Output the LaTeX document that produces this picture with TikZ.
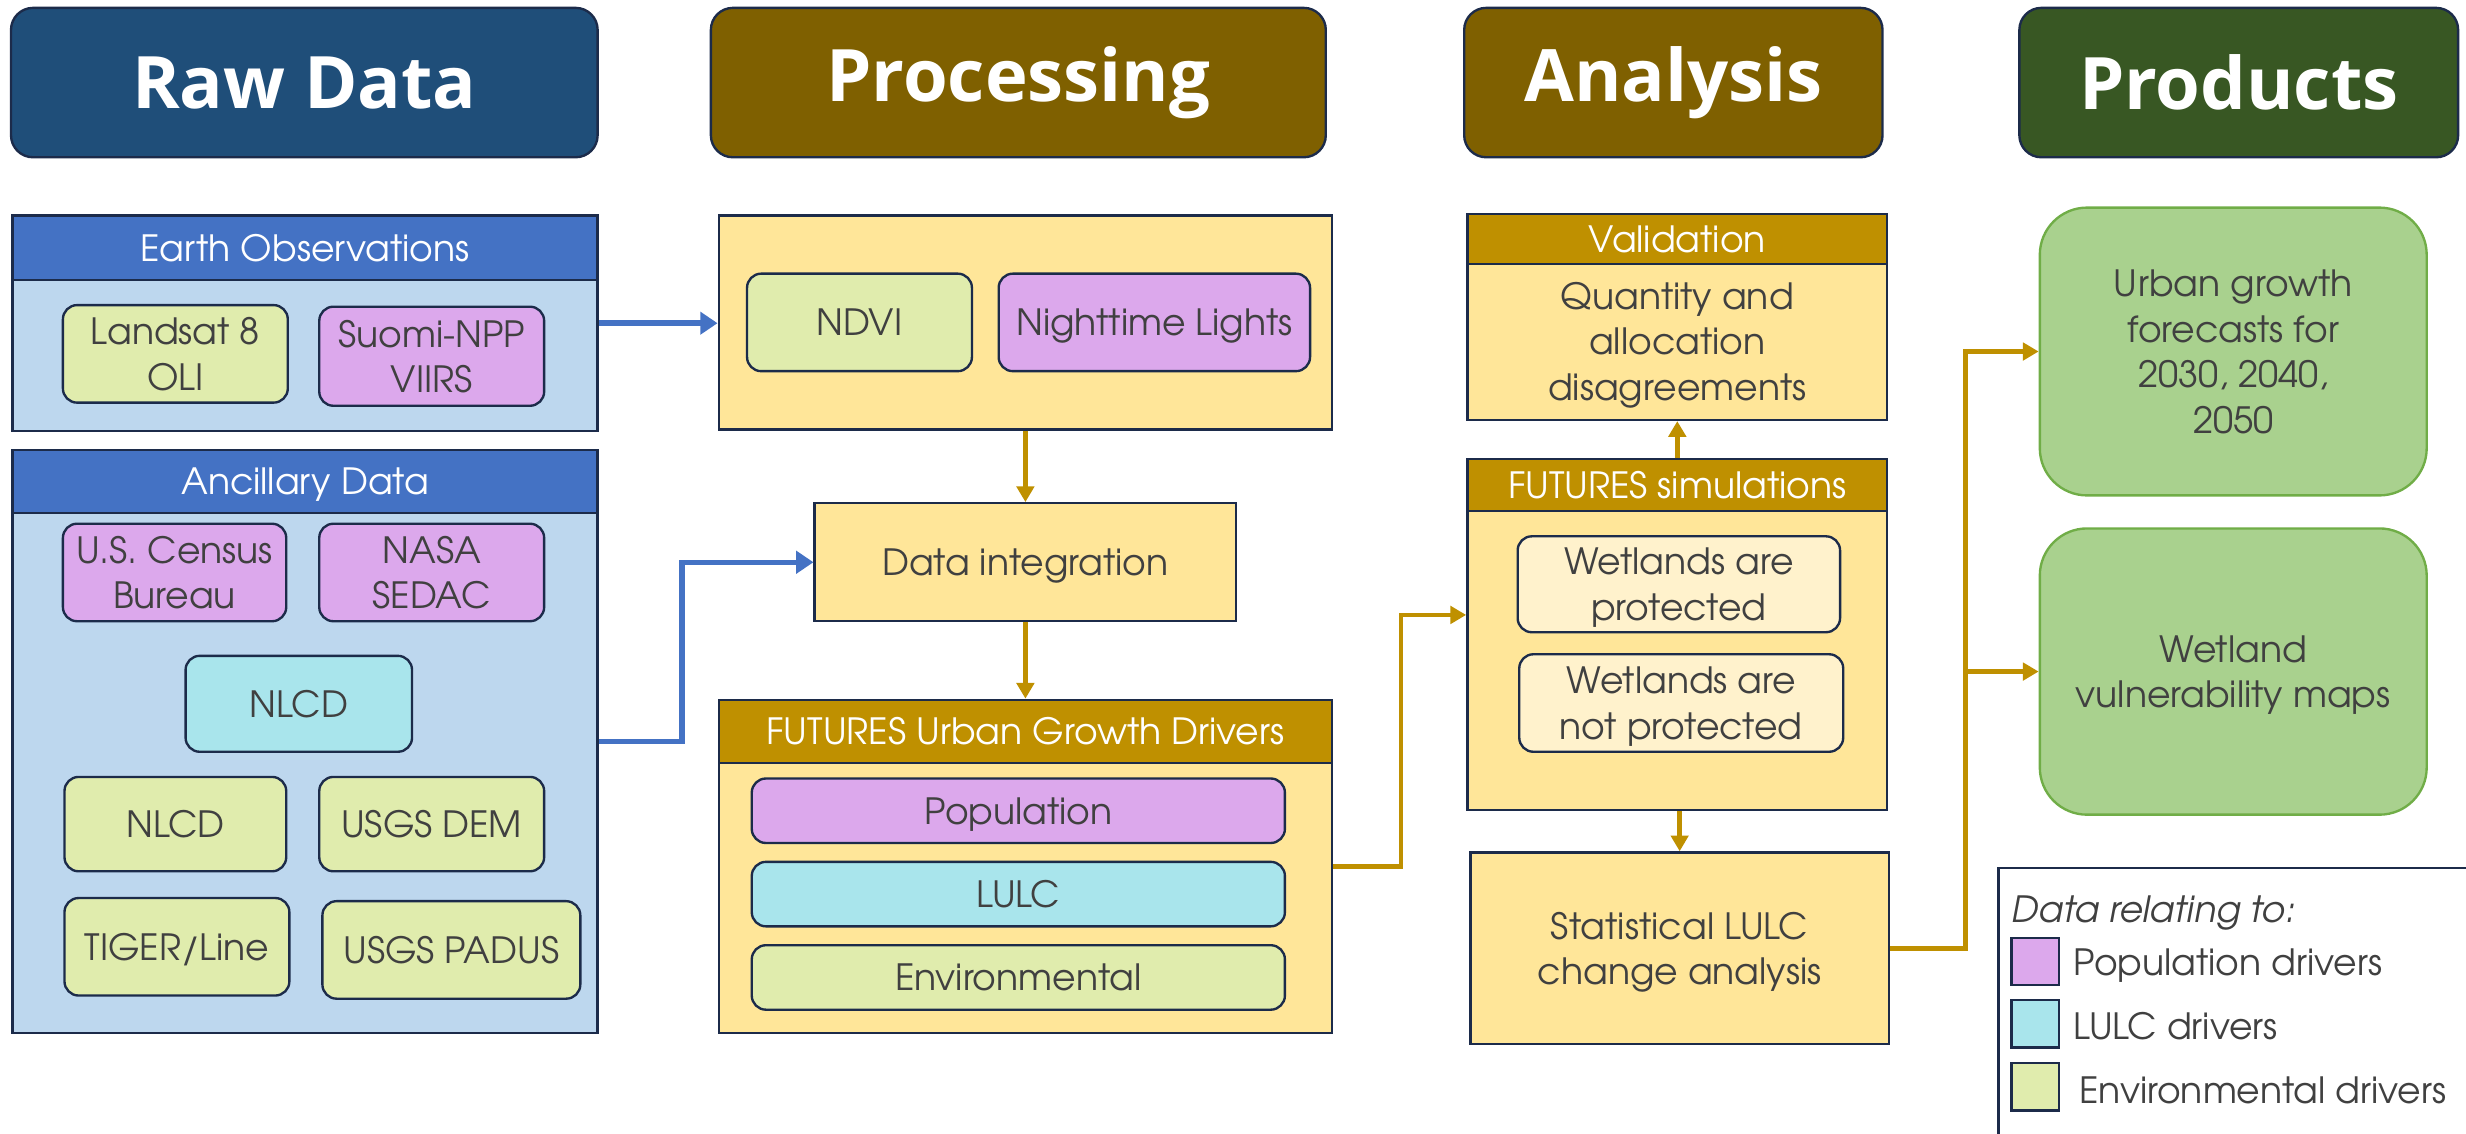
\documentclass[tikz,border=0pt]{standalone}
\usepackage{fontspec}
\setmainfont{texgyreadventor}[Extension=.otf, UprightFont=*-regular, BoldFont=*-bold, ItalicFont=*-italic, BoldItalicFont=*-bolditalic]
\newfontfamily\headfont{Open Sans}
\usetikzlibrary{arrows.meta}
\definecolor{navyH}{HTML}{1F4E79}
\definecolor{brownH}{HTML}{7F6000}
\definecolor{greenH}{HTML}{385723}
\definecolor{blueband}{HTML}{4472C4}
\definecolor{bluebody}{HTML}{BDD7EE}
\definecolor{yell}{HTML}{FFE699}
\definecolor{gold}{HTML}{BF9000}
\definecolor{envc}{HTML}{E0ECAD}
\definecolor{popc}{HTML}{DCA8EC}
\definecolor{lulcc}{HTML}{A9E5EC}
\definecolor{cream}{HTML}{FFF2CC}
\definecolor{prodg}{HTML}{A9D18E}
\definecolor{prodb}{HTML}{70AD47}
\definecolor{bord}{HTML}{1C2B4A}
\definecolor{txt}{HTML}{404040}
\newcommand\bfnt{\fontsize{23}{29}\selectfont}
\tikzset{
  bx/.style={draw=bord, line width=1.5pt, inner sep=0pt, align=center, font=\bfnt, text=txt, text depth=0pt},
  rbx/.style={bx, rounded corners=9pt},
  head/.style={draw=bord, line width=1.5pt, rounded corners=14pt, inner sep=0pt, text=white, font=\headfont\bfseries\fontsize{46}{50}\selectfont},
  band/.style={bx, text=white},
  prod/.style={draw=prodb, line width=1.5pt, fill=prodg, rounded corners=30pt, inner sep=0pt, align=center, font=\bfnt, text=txt, text depth=0pt},
  barrow/.style={draw=blueband, line width=3.5pt, -{Triangle[length=11pt,width=14pt]}},
  garrow/.style={draw=gold, line width=3pt, -{Triangle[length=10pt,width=11pt]}},
  swatch/.style={draw=bord, line width=1.5pt, minimum width=30pt, minimum height=30pt, inner sep=0pt},
  legtxt/.style={anchor=west, inner sep=0pt, font=\bfnt, text=txt, text depth=0pt}
}
\begin{document}
\begin{tikzpicture}[x=1pt,y=-1pt]
\useasboundingbox (0,0) rectangle (1568,721);
% headers
\node[head, fill=navyH, minimum width=373pt, minimum height=95pt] (hraw) at (193.5,52.5) {Raw Data};
\node[head, fill=brownH, minimum width=391pt, minimum height=95pt] (hproc) at (647.5,52.5) {Processing};
\node[head, fill=brownH, minimum width=266pt, minimum height=95pt] (hana) at (1064,52.5) {Analysis};
\node[head, fill=greenH, minimum width=279pt, minimum height=95pt] (hprod) at (1423.5,52.5) {Products};
% Raw data column
\node[bx, fill=bluebody, minimum width=372pt, minimum height=137pt] (eo) at (194,205.5) {};
\node[band, fill=blueband, minimum width=372pt, minimum height=41pt] (eoh) at (194,157.5) {Earth Observations};
\node[rbx, fill=envc, minimum width=143pt, minimum height=62pt] (landsat) at (111.5,225) {Landsat 8\\OLI};
\node[rbx, fill=popc, minimum width=143pt, minimum height=63pt] (suomi) at (274.5,226.5) {Suomi-NPP\\VIIRS};
\node[bx, fill=bluebody, minimum width=372pt, minimum height=371pt] (anc) at (194,471.5) {};
\node[band, fill=blueband, minimum width=372pt, minimum height=40pt] (anch) at (194,306) {Ancillary Data};
\node[rbx, fill=popc, minimum width=142pt, minimum height=62pt] (census) at (111,364) {U.S. Census\\Bureau};
\node[rbx, fill=popc, minimum width=143pt, minimum height=62pt] (nasa) at (274.5,364) {NASA\\SEDAC};
\node[rbx, fill=lulcc, minimum width=144pt, minimum height=61pt] (nlcda) at (190,447.5) {NLCD};
\node[rbx, fill=envc, minimum width=141pt, minimum height=60pt] (nlcdb) at (111.5,524) {NLCD};
\node[rbx, fill=envc, minimum width=143pt, minimum height=60pt] (dem) at (274.5,524) {USGS DEM};
\node[rbx, fill=envc, minimum width=143pt, minimum height=62pt] (tiger) at (112.5,602) {TIGER/Line};
\node[rbx, fill=envc, minimum width=164pt, minimum height=62pt] (padus) at (287,604) {USGS PADUS};
% Processing column
\node[bx, fill=yell, minimum width=390pt, minimum height=136pt] (proc) at (652,205) {};
\node[rbx, fill=envc, minimum width=143pt, minimum height=62pt] (ndvi) at (546.5,205) {NDVI};
\node[rbx, fill=popc, minimum width=198pt, minimum height=62pt] (night) at (734,205) {Nighttime Lights};
\node[bx, fill=yell, minimum width=268pt, minimum height=75pt] (integ) at (652,357.5) {Data integration};
\node[bx, fill=yell, minimum width=390pt, minimum height=212pt] (drv) at (652,551) {};
\node[band, fill=gold, minimum width=390pt, minimum height=40pt] (drvh) at (652,465) {FUTURES Urban Growth Drivers};
\node[rbx, fill=popc, minimum width=339pt, minimum height=41pt] (pop) at (647.5,515.5) {Population};
\node[rbx, fill=lulcc, minimum width=339pt, minimum height=41pt] (lulc) at (647.5,568.5) {LULC};
\node[rbx, fill=envc, minimum width=339pt, minimum height=41pt] (env) at (647.5,621.5) {Environmental};
% Analysis column
\node[bx, fill=yell, minimum width=267pt, minimum height=131pt] (val) at (1066.5,201.5) {};
\node[band, fill=gold, minimum width=267pt, minimum height=32pt] (valh) at (1066.5,152) {Validation};
\node[align=center, font=\bfnt, text=txt, inner sep=0pt, text depth=0pt] (valt) at (1066.5,217) {Quantity and\\allocation\\disagreements};
\node[bx, fill=yell, minimum width=267pt, minimum height=223pt] (sim) at (1066.5,403.5) {};
\node[band, fill=gold, minimum width=267pt, minimum height=33pt] (simh) at (1066.5,308.5) {FUTURES simulations};
\node[rbx, fill=cream, minimum width=205pt, minimum height=61pt] (wp) at (1067.5,371.5) {Wetlands are\\protected};
\node[rbx, fill=cream, minimum width=206pt, minimum height=62pt] (wnp) at (1069,447) {Wetlands are\\not protected};
\node[bx, fill=yell, minimum width=266pt, minimum height=122pt] (stat) at (1068,603) {Statistical LULC\\change analysis};
% Products
\node[prod, minimum width=246pt, minimum height=183pt] (urb) at (1420,223.5) {Urban growth\\forecasts for\\2030, 2040,\\2050};
\node[prod, minimum width=246pt, minimum height=182pt] (wet) at (1420,427) {Wetland\\vulnerability maps};
% Legend
\node[draw=bord, line width=1.5pt, anchor=north west, minimum width=330pt, minimum height=200pt, inner sep=0pt] (leg) at (1270,551) {};
\node[anchor=west, inner sep=0pt, font=\bfnt\itshape, text=txt, text depth=0pt] (legt) at (1279,578) {Data relating to:};
\node[swatch, fill=popc] (sw1) at (1294,611.5) {};
\node[swatch, fill=lulcc] (sw2) at (1294,651) {};
\node[swatch, fill=envc] (sw3) at (1294,691) {};
\node[legtxt] (l1) at (1318,612) {Population drivers};
\node[legtxt] (l2) at (1318,652) {LULC drivers};
\node[legtxt] (l3) at (1322,693) {Environmental drivers};
% connectors
\draw[barrow] (eo.east) -- (eo.east -| proc.west);
\draw[barrow] (anc.east) -- ++(53,0) |- (integ.west);
\draw[garrow] (proc.south) -- (integ.north);
\draw[garrow] (integ.south) -- (drv.north);
\draw[garrow] (drv.east) -- ++(43,0) |- ([yshift=12.5pt]sim.west);
\draw[garrow] (sim.north) -- (val.south);
\draw[garrow] (sim.south -| stat.north) -- (stat.north);
\coordinate (jn) at ([xshift=48pt]stat.east);
\draw[garrow] (stat.east) -- (jn) |- (urb.west);
\draw[garrow] (jn) |- (wet.west);
\end{tikzpicture}
\end{document}
